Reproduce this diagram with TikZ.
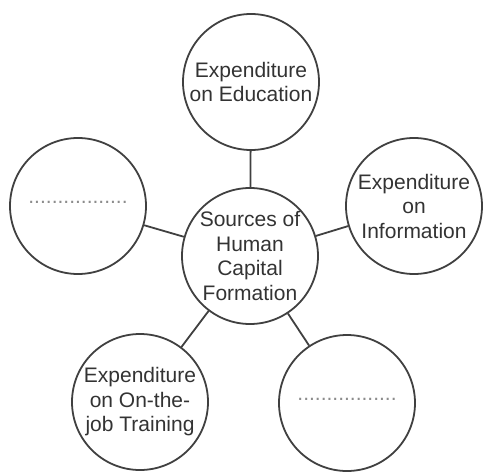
\documentclass[tikz,border=0pt]{standalone}
\usepackage{fontspec}
\setmainfont{Liberation Sans}
\begin{document}
\begin{tikzpicture}[x=1pt,y=-1pt,
  bubble/.style={circle,draw=black!75,line width=1.8pt,minimum size=136pt,inner sep=0pt,
    align=center,text=black!80,font=\fontsize{21}{24.5}\selectfont},
  link/.style={draw=black!75,line width=1.8pt},
  blank/.style={text=black!45,font=\fontsize{21}{24.5}\selectfont}]
\useasboundingbox (0,0) rectangle (484,472);
\node[bubble] (c) at (250,256) {Sources of\\Human\\Capital\\Formation};
\node[bubble] (t) at (251,82) {Expenditure\\on Education};
\node[bubble] (r) at (414,206) {Expenditure\\on\\Information};
\node[bubble] (l) at (78,206) {};
\node[bubble] (bl) at (140,402) {Expenditure\\on On-the-\\job Training};
\node[bubble] (br) at (347,403) {};
\node[blank] (ld) at (78,202) {.................};
\node[blank] (brd) at (347,399) {.................};
\draw[link] (c) -- (t);
\draw[link] (c) -- (r);
\draw[link] (c) -- (l);
\draw[link] (c) -- (bl);
\draw[link] (c) -- (br);
\end{tikzpicture}
\end{document}
